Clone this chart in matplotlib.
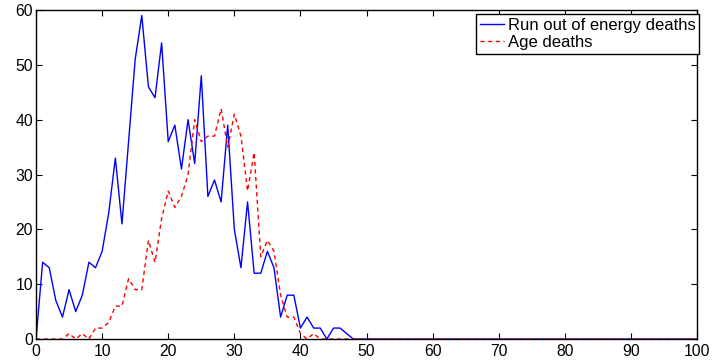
import matplotlib
matplotlib.use("Agg")
import matplotlib.pyplot as plt
import numpy as np

energy_head = [0, 14, 13, 7, 4, 9, 5, 8, 14, 13, 16, 23, 33, 21, 36, 51, 59, 46, 44, 54,
               36, 39, 31, 40, 32, 48, 26, 29, 25, 39, 20, 13, 25, 12, 12, 16, 13, 4, 8, 8,
               2, 4, 2, 2, 0, 2, 2, 1, 0]
age_head = [0, 0, 0, 0, 0, 1, 0, 1, 0, 2, 2, 3, 6, 6, 11, 9, 9, 18, 14, 22,
            27, 24, 26, 30, 40, 36, 37, 37, 42, 35, 41, 37, 27, 34, 15, 18, 16, 8, 4, 4,
            1, 0, 1, 0]
x = np.arange(0, 101)
energy = np.zeros(101)
energy[:len(energy_head)] = energy_head
age = np.zeros(101)
age[:len(age_head)] = age_head

plt.rcParams['font.family'] = ['Liberation Sans', 'DejaVu Sans']
fig = plt.figure(figsize=(7.12, 3.63), dpi=100)
ax = fig.add_axes([0.0506, 0.066, 0.9284, 0.9065])
ax.plot(x, energy, color='#0000ff', lw=1.0, label='Run out of energy deaths')
ax.plot(x, age, color='#ff0000', lw=1.0, ls='--', dashes=(3, 2.5), label='Age deaths')
ax.set_xlim(0, 100)
ax.set_ylim(0, 60)
ax.set_xticks(np.arange(0, 101, 10))
ax.set_yticks(np.arange(0, 61, 10))
ax.tick_params(direction='in', top=True, right=True, labelsize=11.3, length=4.5, width=0.8)
ax.tick_params(axis='x', pad=3.5)
ax.tick_params(axis='y', pad=2)
for s in ax.spines.values():
    s.set_linewidth(1.0)
leg = ax.legend(loc='upper right', bbox_to_anchor=(1.003, 0.988), fontsize=12,
                frameon=True, fancybox=False, edgecolor='black', framealpha=1,
                borderaxespad=0, handlelength=1.45, handletextpad=0.2,
                borderpad=0.22, labelspacing=0.14)
leg.get_frame().set_linewidth(1.0)
fig.savefig('out.png', dpi=100)
